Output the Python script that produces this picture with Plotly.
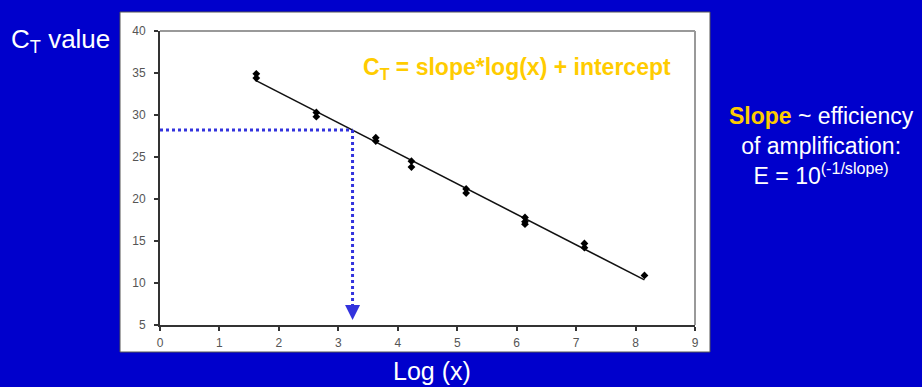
import numpy as np
import plotly.graph_objects as go

# ---- data ----
log_x = [1.62, 1.62, 2.63, 2.63, 3.63, 3.63, 4.23, 4.23, 5.15, 5.15,
         6.14, 6.14, 6.14, 7.14, 7.14, 8.15]
ct_values = [34.9, 34.4, 30.3, 29.8, 27.3, 26.9, 24.5, 23.8, 21.2, 20.7,
             17.8, 17.3, 17.0, 14.7, 14.2, 10.9]
x_ticks = [0, 1, 2, 3, 4, 5, 6, 7, 8, 9]
y_ticks = [5, 10, 15, 20, 25, 30, 35, 40]
query_ct = 28.2
arrow_end_ct = 5.6

# ---- fit ----
slope, intercept = np.polyfit(log_x, ct_values, 1)
fit_x = np.array([min(log_x) - 0.02, max(log_x)])
fit_y = slope * fit_x + intercept
query_x = (query_ct - intercept) / slope

W, H = 922, 387
L, R, T, B = 160, 695, 31, 325
BLUE = "#0000CC"
GOLD = "#FFCC00"
DOT = "#3333DD"


def px(x):
    return (x - L) / (R - L)


def py(y):
    return (B - y) / (B - T)


fig = go.Figure()

fig.add_trace(go.Scatter(x=fit_x, y=fit_y, mode="lines",
                         line=dict(color="#111111", width=1.6),
                         showlegend=False, hoverinfo="skip"))
fig.add_trace(go.Scatter(x=log_x, y=ct_values, mode="markers",
                         marker=dict(color="#000000", size=6, symbol="diamond"),
                         showlegend=False))
fig.add_trace(go.Scatter(x=[0, query_x], y=[query_ct, query_ct], mode="lines",
                         line=dict(color=DOT, width=3, dash="dot"),
                         showlegend=False, hoverinfo="skip"))
fig.add_trace(go.Scatter(x=[query_x, query_x], y=[query_ct, arrow_end_ct + 0.8], mode="lines",
                         line=dict(color=DOT, width=3, dash="dot"),
                         showlegend=False, hoverinfo="skip"))

tick_font = dict(family="Liberation Sans Narrow, Arial Narrow, Arial", size=12, color="#555555")

fig.update_layout(
    width=W, height=H,
    margin=dict(l=L, r=W - R, t=T, b=H - B, pad=0),
    paper_bgcolor=BLUE, plot_bgcolor="white",
    xaxis=dict(range=[0, 9], tickvals=x_ticks, showgrid=False, zeroline=False,
               showline=True, linecolor="#333333", linewidth=2,
               ticks="outside", ticklen=4, tickcolor="#333333", tickwidth=2,
               tickfont=tick_font, ticklabelstandoff=2),
    yaxis=dict(range=[5, 40], tickvals=y_ticks, showgrid=False, zeroline=False,
               showline=True, linecolor="#333333", linewidth=2,
               ticks="outside", ticklen=4, tickcolor="#333333", tickwidth=2,
               tickfont=tick_font, ticklabelstandoff=6),
    font=dict(family="Arial, Liberation Sans, sans-serif"),
    shapes=[
        dict(type="rect", xref="paper", yref="paper", layer="below",
             x0=px(120), x1=px(710), y0=py(352), y1=py(12),
             fillcolor="white", line=dict(color="#555555", width=1)),
        dict(type="line", xref="paper", yref="paper", x0=0, x1=1, y0=1, y1=1,
             line=dict(color="#999999", width=2)),
        dict(type="line", xref="paper", yref="paper", x0=1, x1=1, y0=0, y1=1,
             line=dict(color="#999999", width=2)),
    ],
    annotations=[
        dict(x=query_x, y=arrow_end_ct, ax=query_x, ay=arrow_end_ct + 1.6,
             xref="x", yref="y", axref="x", ayref="y", text="",
             showarrow=True, arrowhead=2, arrowsize=1.0, arrowwidth=3, arrowcolor=DOT),
        dict(x=px(517), y=py(68), xref="paper", yref="paper", showarrow=False,
             xanchor="center", yanchor="middle",
             text="<b>C<sub>T</sub> = slope*log(x) + intercept</b>",
             font=dict(size=23, color=GOLD)),
        dict(x=px(60), y=py(40), xref="paper", yref="paper", showarrow=False,
             xanchor="center", yanchor="middle",
             text="C<sub>T</sub> value", font=dict(size=26, color="white")),
        dict(x=px(432), y=py(371), xref="paper", yref="paper", showarrow=False,
             xanchor="center", yanchor="middle",
             text="Log (x)", font=dict(size=25, color="white")),
        dict(x=px(821), y=py(101), xref="paper", yref="paper", showarrow=False,
             xanchor="center", yanchor="top", align="center",
             text=(f"<b><span style='color:{GOLD}'>Slope</span></b> ~ efficiency<br>"
                   "of amplification:<br>E = 10<sup>(-1/slope)</sup>"),
             font=dict(size=23, color="white")),
    ],
)

fig.write_html("out.html")
